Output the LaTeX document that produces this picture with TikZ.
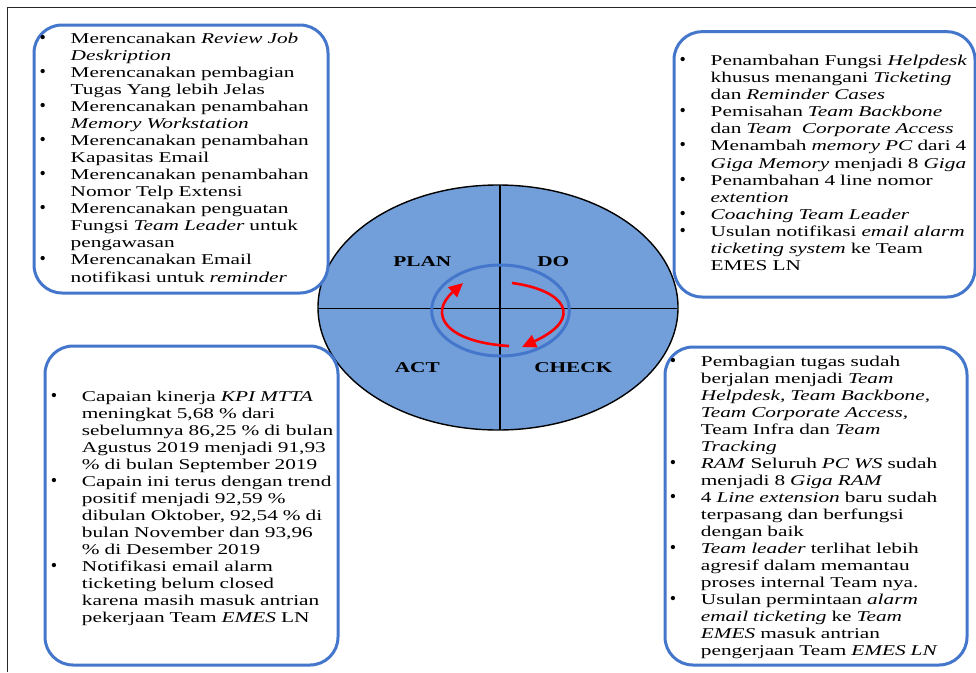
\documentclass[tikz,border=0pt]{standalone}
\usepackage{fontspec}
\setmainfont{Liberation Serif}[FakeStretch=1.42]
\newfontfamily\dotfont{Liberation Serif}
\usetikzlibrary{arrows.meta}
\definecolor{boxblue}{RGB}{68,119,204}
\definecolor{pdcafill}{RGB}{114,159,218}
\newcommand{\itm}{\leavevmode\llap{\makebox[28pt][l]{\hspace{-3pt}{\dotfont\fontsize{18}{18}\selectfont\textbullet}}}}

\begin{document}
\begin{tikzpicture}[x=1pt,y=-1pt,
    boxline/.style={draw=boxblue, line width=3pt, fill=white, rounded corners=28pt},
    itemtext/.style={anchor=base west, inner sep=0pt, text width=300pt, align=left, font={\fontsize{15}{17.05}\selectfont}},
    phase/.style={anchor=base, inner sep=0pt, font={\fontsize{15}{17}\selectfont\bfseries}},
    cycarrow/.style={red, line width=2.6pt, -{Triangle[length=14pt,width=13pt]}}]
    \useasboundingbox (0,0) rectangle (976,672);
    % frame
    \draw[line width=1pt, black!85] (7,672) -- (7,7) -- (976,7);

    % cycle
    \draw[fill=pdcafill, line width=1.4pt] (498,307.5) ellipse [x radius=180, y radius=122.5];
    \draw[line width=1.5pt] (500,185) -- (500,430);
    \draw[line width=1.5pt] (318,308.3) -- (677,308.3);
    \draw[boxblue, line width=3pt] (500.5,310.5) ellipse [x radius=68.8, y radius=45.5];
    \node[phase] (plan) at (422.3,266.7) {PLAN};
    \node[phase] (do) at (553.3,266.7) {DO};
    \node[phase] (act) at (417.3,372.3) {ACT};
    \node[phase] (check) at (573.3,372.3) {CHECK};
    \coordinate (doS) at (512,283);
    \coordinate (chkE) at (522,347);
    \coordinate (actS) at (509,346);
    \coordinate (planE) at (463,283);
    \draw[cycarrow] (doS) .. controls (565,290) and (585,318) .. (chkE);
    \draw[cycarrow] (actS) .. controls (445,342) and (428,314) .. (planE);

    % PLAN box
    \draw[boxline] (34,25) rectangle (328,293);
    \node[itemtext] (plantext) at (70.5,43.3) {\itm Merencanakan \textit{Review Job}\\
      \textit{Deskription}\\
      \itm Merencanakan pembagian\\
      Tugas Yang lebih Jelas\\
      \itm Merencanakan penambahan\\
      \textit{Memory Workstation}\\
      \itm Merencanakan penambahan\\
      Kapasitas Email\\
      \itm Merencanakan penambahan\\
      Nomor Telp Extensi\\
      \itm Merencanakan penguatan\\
      Fungsi \textit{Team Leader} untuk\\
      pengawasan\\
      \itm Merencanakan Email\\
      notifikasi untuk \textit{reminder}};

    % DO box
    \draw[boxline] (674,31.7) rectangle (975,297);
    \node[itemtext] (dotext) at (710.5,65.7) {\itm Penambahan Fungsi \textit{Helpdesk}\\
      khusus menangani \textit{Ticketing}\\
      dan \textit{Reminder Cases}\\
      \itm Pemisahan \textit{Team Backbone}\\
      dan \textit{Team\ \ Corporate Access}\\
      \itm Menambah \textit{memory PC} dari 4\\
      \textit{Giga Memory} menjadi 8 \textit{Giga}\\
      \itm Penambahan 4 line nomor\\
      \textit{extention}\\
      \itm \textit{Coaching Team Leader}\\
      \itm Usulan notifikasi \textit{email alarm}\\
      \textit{ticketing system} ke Team\\
      EMES LN};

    % ACT box
    \draw[boxline] (45,346) rectangle (338,665);
    \node[itemtext] (acttext) at (81.7,401) {\itm Capaian kinerja \textit{KPI MTTA}\\
      meningkat 5,68 \% dari\\
      sebelumnya 86,25 \% di bulan\\
      Agustus 2019 menjadi 91,93\\
      \% di bulan September 2019\\
      \itm Capain ini terus dengan trend\\
      positif menjadi 92,59 \%\\
      dibulan Oktober, 92,54 \% di\\
      bulan November dan 93,96\\
      \% di Desember 2019\\
      \itm Notifikasi email alarm\\
      ticketing belum closed\\
      karena masih masuk antrian\\
      pekerjaan Team \textit{EMES} LN};

    % CHECK box
    \draw[boxline] (665,347) rectangle (967,665);
    \node[itemtext] (checktext) at (700.7,366) {\itm Pembagian tugas sudah\\
      berjalan menjadi \textit{Team}\\
      \textit{Helpdesk, Team Backbone,}\\
      \textit{Team Corporate Access,}\\
      Team Infra dan \textit{Team}\\
      \textit{Tracking}\\
      \itm \textit{RAM} Seluruh \textit{PC WS} sudah\\
      menjadi 8 \textit{Giga RAM}\\
      \itm 4 \textit{Line extension} baru sudah\\
      terpasang dan berfungsi\\
      dengan baik\\
      \itm \textit{Team leader} terlihat lebih\\
      agresif dalam memantau\\
      proses internal Team nya.\\
      \itm Usulan permintaan \textit{alarm}\\
      \textit{email ticketing} ke \textit{Team}\\
      \textit{EMES} masuk antrian\\
      pengerjaan Team \textit{EMES LN}};
\end{tikzpicture}
\end{document}
